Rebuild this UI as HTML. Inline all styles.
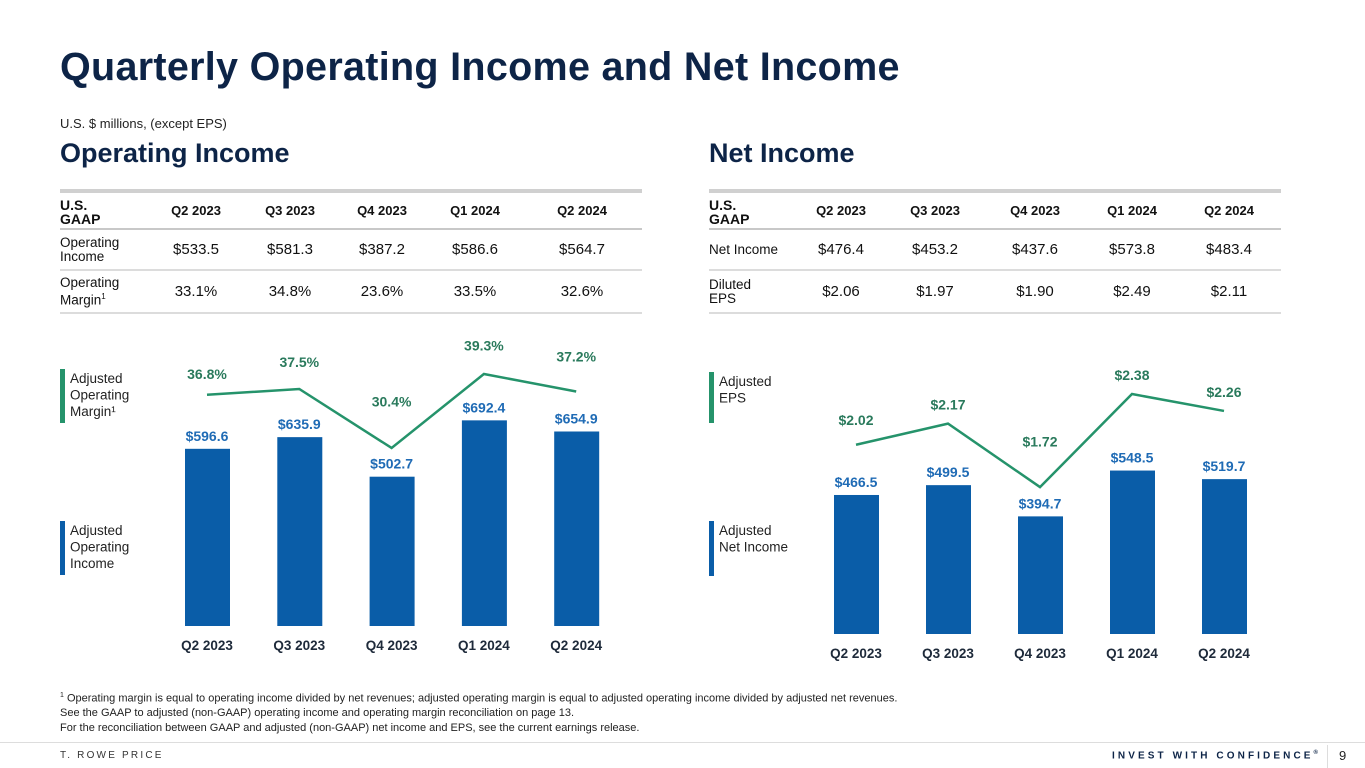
<!DOCTYPE html>
<html><head><meta charset="utf-8">
<style>
*{margin:0;padding:0;box-sizing:border-box}
body{width:1365px;height:768px;background:#fff;font-family:"Liberation Sans",Arial,sans-serif;position:relative;overflow:hidden;color:#111}
.abs{position:absolute}
h1{position:absolute;left:60px;top:45px;font-size:39.5px;font-weight:bold;color:#0d2447;letter-spacing:0.3px}
.sub{left:60px;top:116px;font-size:13px;color:#222}
h2{position:absolute;top:138px;font-size:27px;font-weight:bold;color:#0d2447}
table{position:absolute;border-collapse:collapse;font-size:15px;color:#111}
table td{text-align:center;padding:0}
table tr.h td{font-weight:bold;font-size:13px;height:36px;border-bottom:2px solid #c8c8c8}
table tr.h td:first-child{font-size:14px;line-height:14px;padding-top:3px}
table tr.r td{height:41px;border-bottom:2px solid #dcdcdc}
table tr.r2 td{height:43px}
table td:first-child{text-align:left;font-size:13.5px;line-height:14px}
.foot{left:60px;top:689px;font-size:11px;line-height:14.5px;color:#222}
</style></head><body>
<h1>Quarterly Operating Income and Net Income</h1>
<div class="abs sub">U.S. $ millions, (except EPS)</div>
<h2 style="left:60px">Operating Income</h2>
<h2 style="left:709px">Net Income</h2>

<div class="abs" style="left:60px;top:189px;width:582px;height:4px;background:#d0d0d0"></div>
<table style="left:60px;top:193px;width:582px">
<colgroup><col style="width:88px"><col style="width:96px"><col style="width:92px"><col style="width:92px"><col style="width:94px"><col></colgroup>
<tr class="h"><td>U.S.<br>GAAP</td><td>Q2 2023</td><td>Q3 2023</td><td>Q4 2023</td><td>Q1 2024</td><td>Q2 2024</td></tr>
<tr class="r"><td>Operating<br>Income</td><td>$533.5</td><td>$581.3</td><td>$387.2</td><td>$586.6</td><td>$564.7</td></tr>
<tr class="r r2"><td>Operating<br>Margin<sup style="font-size:8px">1</sup></td><td>33.1%</td><td>34.8%</td><td>23.6%</td><td>33.5%</td><td>32.6%</td></tr>
</table>

<div class="abs" style="left:709px;top:189px;width:572px;height:4px;background:#d0d0d0"></div>
<table style="left:709px;top:193px;width:572px">
<colgroup><col style="width:86px"><col style="width:92px"><col style="width:96px"><col style="width:104px"><col style="width:90px"><col></colgroup>
<tr class="h"><td>U.S.<br>GAAP</td><td>Q2 2023</td><td>Q3 2023</td><td>Q4 2023</td><td>Q1 2024</td><td>Q2 2024</td></tr>
<tr class="r"><td>Net Income</td><td>$476.4</td><td>$453.2</td><td>$437.6</td><td>$573.8</td><td>$483.4</td></tr>
<tr class="r r2"><td>Diluted<br>EPS</td><td>$2.06</td><td>$1.97</td><td>$1.90</td><td>$2.49</td><td>$2.11</td></tr>
</table>

<svg class="abs" style="left:0;top:0" width="1365" height="768" id="charts"></svg>

<div class="abs foot"><sup style="font-size:7px">1</sup> Operating margin is equal to operating income divided by net revenues; adjusted operating margin is equal to adjusted operating income divided by adjusted net revenues.<br>See the GAAP to adjusted (non-GAAP) operating income and operating margin reconciliation on page 13.<br>For the reconciliation between GAAP and adjusted (non-GAAP) net income and EPS, see the current earnings release.</div>
<div class="abs" style="left:0;top:742px;width:1365px;height:1px;background:#ddd"></div>
<div class="abs" style="left:60px;top:750px;font-size:10px;letter-spacing:2.2px;color:#333">T. ROWE PRICE</div>
<div class="abs" style="left:1112px;top:750px;font-size:10px;font-weight:bold;letter-spacing:3.1px;color:#0d2447">INVEST WITH CONFIDENCE<sup style="font-size:6px">®</sup></div>
<div class="abs" style="left:1327px;top:745px;width:1px;height:23px;background:#ddd"></div>
<div class="abs" style="left:1339px;top:748px;font-size:13px;color:#222">9</div>

<script>
const categories=["Q2 2023","Q3 2023","Q4 2023","Q1 2024","Q2 2024"];
const opIncome=[596.6,635.9,502.7,692.4,654.9];
const opMargin=[36.8,37.5,30.4,39.3,37.2];
const opIncomeLabels=["$596.6","$635.9","$502.7","$692.4","$654.9"];
const opMarginLabels=["36.8%","37.5%","30.4%","39.3%","37.2%"];
const netIncome=[466.5,499.5,394.7,548.5,519.7];
const adjEps=[2.02,2.17,1.72,2.38,2.26];
const netIncomeLabels=["$466.5","$499.5","$394.7","$548.5","$519.7"];
const adjEpsLabels=["$2.02","$2.17","$1.72","$2.38","$2.26"];

const svg=document.getElementById('charts');
const NS='http://www.w3.org/2000/svg';
function mk(t,a){const e=document.createElementNS(NS,t);for(const k in a)e.setAttribute(k,a[k]);svg.appendChild(e);return e;}
function txt(x,y,s,fill,size,w){const e=mk('text',{x:x,y:y,'text-anchor':'middle',fill:fill,'font-size':size,'font-weight':w||'bold','font-family':'Liberation Sans, Arial, sans-serif'});e.textContent=s;return e;}

function chart(cfg){
  const xc=i=>cfg.x0+i*cfg.step;
  const yb=v=>cfg.base-v*cfg.barScale;
  const yl=v=>cfg.lineA-v*cfg.lineScale;
  cfg.bars.forEach((v,i)=>{
    const r=mk('rect',{x:xc(i)-22,y:yb(v),width:45,height:cfg.base-yb(v),fill:'#0a5da8'});
    
    
    const t=txt(xc(i),yb(v)-8,cfg.barLabels[i],'#1f6bb5',14);
    
    
    const c=txt(xc(i),cfg.base+24,categories[i],'#1e2a3a',13.5);
    
    
  });
  const pts=cfg.line.map((v,i)=>xc(i)+','+yl(v)).join(' ');
  const pl=mk('polyline',{points:pts,fill:'none',stroke:'#25936b','stroke-width':2.5});
  
  
  cfg.line.forEach((v,i)=>{
    const ly=Math.min(yl(v)-14,yb(cfg.bars[i])-70);
    const t=txt(xc(i),ly,cfg.lineLabels[i],'#2a7a5c',14);
    
    
  });
}
chart({id:'op',x0:207,step:92.3,base:626,barScale:0.297,lineA:700.6,lineScale:8.31,bars:opIncome,barLabels:opIncomeLabels,line:opMargin,lineLabels:opMarginLabels});
chart({id:'net',x0:856,step:92,base:634,barScale:0.298,lineA:729.6,lineScale:141,bars:netIncome,barLabels:netIncomeLabels,line:adjEps,lineLabels:adjEpsLabels});

function legend(x,y,h,color,lines,name){
  const r=mk('rect',{x:x,y:y,width:5,height:h,fill:color});
  
  
  lines.forEach((s,i)=>{
    const t=mk('text',{x:x+10,y:y+14+i*16.5,fill:'#222','font-size':13.5,'font-family':'Liberation Sans, Arial, sans-serif'});
    t.textContent=s;
    
    
  });
}
legend(60,369,54,'#25936b',['Adjusted','Operating','Margin\u00b9'],'legend-adj-op-margin');
legend(60,521,54,'#0a5da8',['Adjusted','Operating','Income'],'legend-adj-op-income');
legend(709,372,51,'#25936b',['Adjusted','EPS'],'legend-adj-eps');
legend(709,521,55,'#0a5da8',['Adjusted','Net Income'],'legend-adj-net-income');
</script>
</body></html>
